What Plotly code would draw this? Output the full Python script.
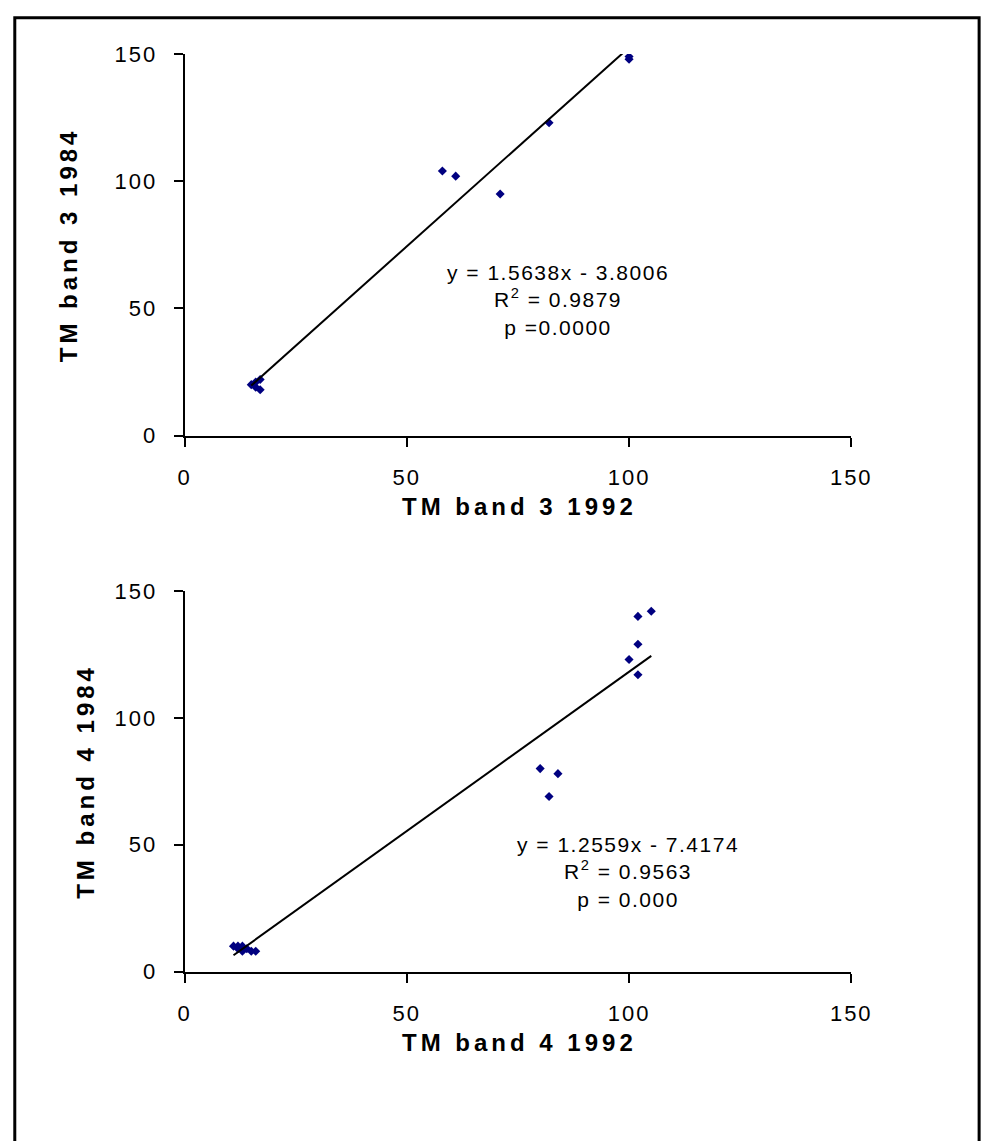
import plotly.graph_objects as go

# ---------------- data ----------------
band3_1992 = [100, 100, 82, 58, 61, 71, 15, 16, 16, 17, 17]
band3_1984 = [149, 148, 123, 104, 102, 95, 20, 21, 19, 22, 18]
fit3_slope, fit3_intercept = 1.5638, -3.8006
eq3_lines = ["y = 1.5638x - 3.8006", "R<sup>2</sup> = 0.9879", "p =0.0000"]

band4_1992 = [105, 102, 102, 100, 102, 80, 84, 82, 11, 12, 12, 13, 13, 14, 15, 16]
band4_1984 = [142, 140, 129, 123, 117, 80, 78, 69, 10, 10, 9, 10, 8, 9, 8, 8]
fit4_slope, fit4_intercept = 1.2559, -7.4174
eq4_lines = ["y = 1.2559x - 7.4174", "R<sup>2</sup> = 0.9563", "p = 0.000"]

tick_vals = [0, 50, 100, 150]
axis_range = [0, 150]
titles = {
    "x3": "TM band 3 1992", "y3": "TM band 3 1984",
    "x4": "TM band 4 1992", "y4": "TM band 4 1984",
}

# ---------------- layout helpers (pixel -> paper) ----------------
W, H = 1002, 1141
def px(x):
    return x / W
def py(y):
    return 1 - y / H

FONT = "Arial, 'Liberation Sans', sans-serif"
NAVY = "#000080"

fig = go.Figure()

def add_panel(xs, ys, slope, intercept, xa, ya):
    fig.add_trace(go.Scatter(
        x=xs, y=ys, mode="markers", xaxis=xa, yaxis=ya,
        marker=dict(symbol="diamond", size=7, color=NAVY),
        showlegend=False, hoverinfo="skip"))
    x0, x1 = min(xs), max(xs)
    fig.add_trace(go.Scatter(
        x=[x0, x1], y=[slope * x0 + intercept, slope * x1 + intercept],
        mode="lines", xaxis=xa, yaxis=ya,
        line=dict(color="black", width=2),
        showlegend=False, hoverinfo="skip"))

add_panel(band3_1992, band3_1984, fit3_slope, fit3_intercept, "x", "y")
add_panel(band4_1992, band4_1984, fit4_slope, fit4_intercept, "x2", "y2")

common = dict(range=axis_range, tickvals=tick_vals, showgrid=False, zeroline=False,
              showline=True, linecolor="black", linewidth=2,
              ticks="outside", ticklen=9, tickwidth=2, tickcolor="black",
              tickfont=dict(family=FONT, size=22, color="black"), fixedrange=True)
inner = dict(range=axis_range, tickvals=tick_vals, showgrid=False, zeroline=False,
             showline=False, ticks="inside", ticklen=9, tickwidth=2, tickcolor="black",
             showticklabels=False, fixedrange=True)

xdom = [px(183), px(866)]
fig.update_layout(
    xaxis=dict(domain=xdom, anchor="y", ticklabelstandoff=12, **common),
    yaxis=dict(domain=[py(433), py(43)], anchor="x", ticklabelstandoff=12, **common),
    xaxis2=dict(domain=xdom, anchor="y2", ticklabelstandoff=12, **common),
    yaxis2=dict(domain=[py(981), py(592)], anchor="x2", ticklabelstandoff=12, **common),
    xaxis3=dict(overlaying="x", anchor="y", side="bottom", **inner),
    yaxis3=dict(overlaying="y", anchor="x", side="left", **inner),
    xaxis4=dict(overlaying="x2", anchor="y2", side="bottom", **inner),
    yaxis4=dict(overlaying="y2", anchor="x2", side="left", **inner),
)

annotations = []
def title(text, x, y, angle=0):
    annotations.append(dict(text="<b>" + text + "</b>", x=px(x), y=py(y), xref="paper", yref="paper",
                            showarrow=False, textangle=angle, xanchor="center", yanchor="middle",
                            font=dict(family=FONT, size=24, color="black")))

title(titles["x3"], 526, 506)
title(titles["y3"], 64, 238, -90)
title(titles["x4"], 526, 1054)
title(titles["y4"], 82, 787, -90)

def eq(lines, cx, cy):
    annotations.append(dict(text="<br>".join(lines), x=px(cx), y=py(cy), xref="paper", yref="paper",
                            showarrow=False, xanchor="center", yanchor="middle", align="center",
                            font=dict(family=FONT, size=21, color="black")))

eq(eq3_lines, 566, 294)
eq(eq4_lines, 637, 879)

fig.update_layout(
    annotations=annotations,
    shapes=[dict(type="rect", xref="paper", yref="paper",
                 x0=px(9), x1=px(997), y0=py(1160), y1=py(6),
                 line=dict(color="black", width=3), fillcolor="rgba(0,0,0,0)")],
    width=W, height=H, margin=dict(l=0, r=0, t=0, b=0),
    paper_bgcolor="white", plot_bgcolor="white",
)

post = """
var st = document.createElement('style');
st.textContent = 'html,body{margin:0!important;padding:0!important;overflow:hidden}' +
  '.xtick text,.ytick text,.x2tick text,.y2tick text{letter-spacing:2px}' +
  '.annotation[data-index="0"] text,.annotation[data-index="1"] text,' +
  '.annotation[data-index="2"] text,.annotation[data-index="3"] text{letter-spacing:4px}' +
  '.annotation[data-index="4"] text,.annotation[data-index="5"] text{letter-spacing:1.5px}';
document.head.appendChild(st);
"""

fig.write_html("out.html", post_script=post, config={"displayModeBar": False, "staticPlot": True})
